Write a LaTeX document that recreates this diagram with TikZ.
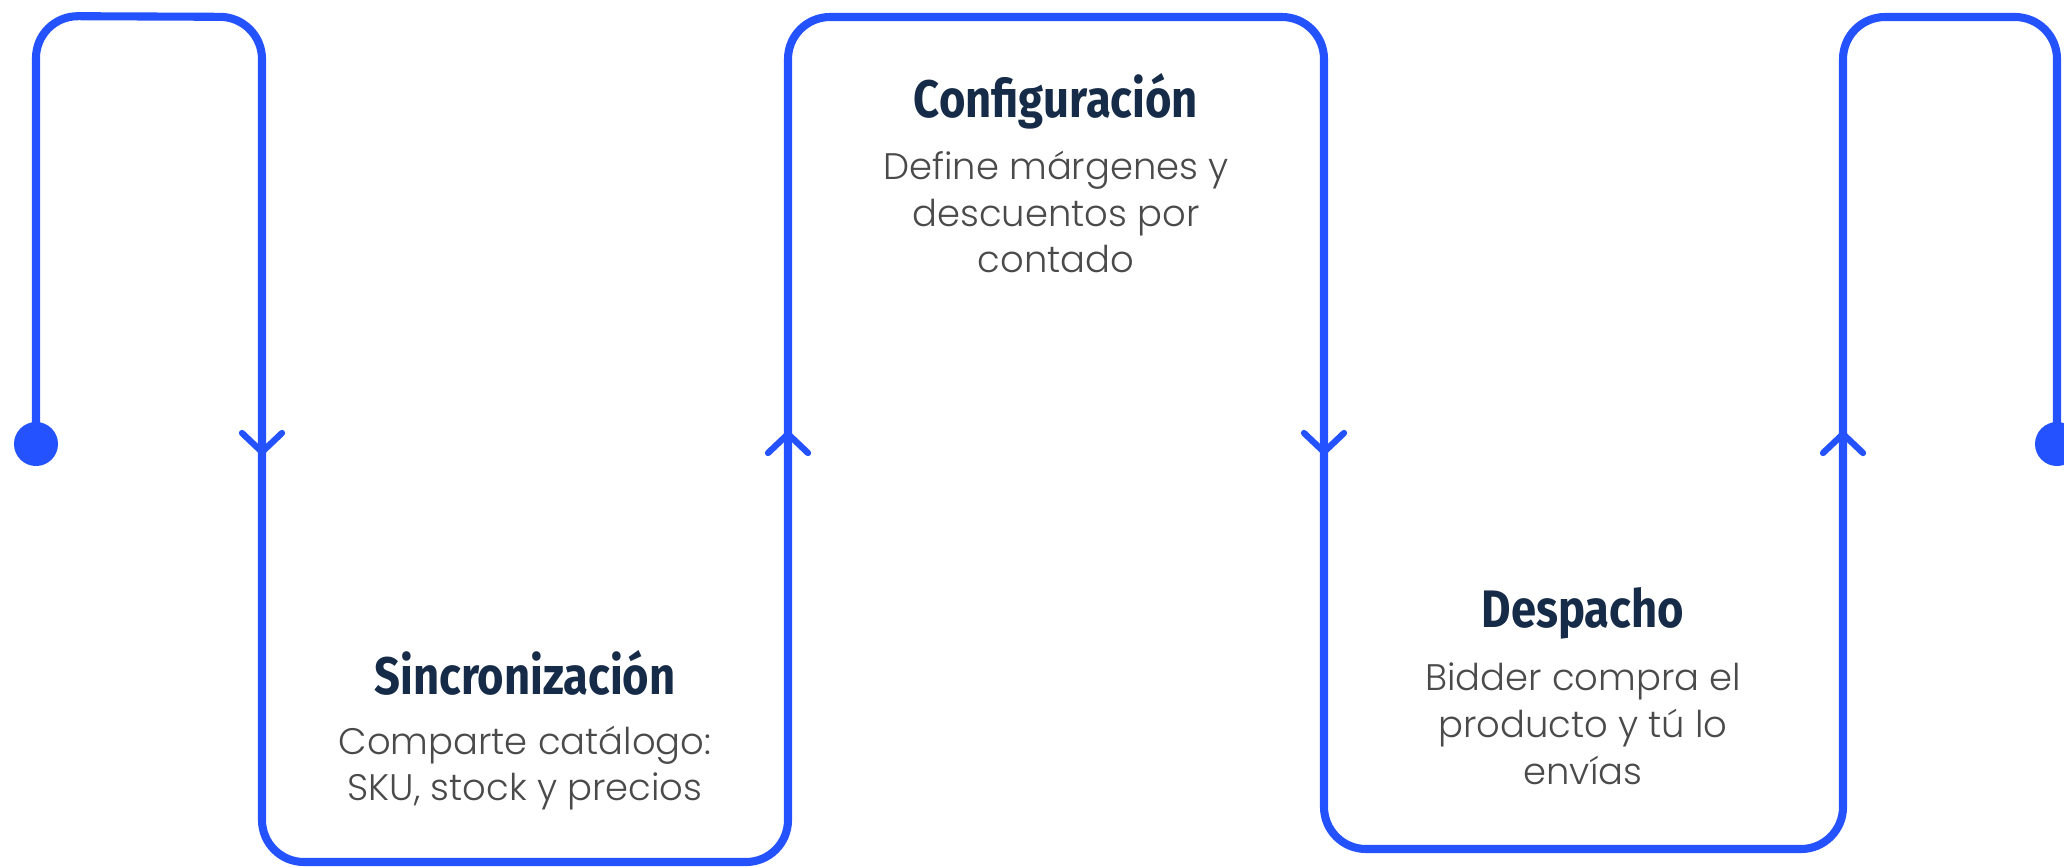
\documentclass[tikz,border=0pt]{standalone}
\usepackage{fontspec}
\usetikzlibrary{positioning}
\newfontfamily\headfont{Fira Sans}[FakeStretch=0.86]
\newfontfamily\bodyfont{Poppins}[UprightFont=* Light]
\newcommand\evenlines{\lineskiplimit=-20pt\relax}
\definecolor{trackblue}{HTML}{2452FF}
\definecolor{headnavy}{HTML}{152B47}
\definecolor{bodygrey}{HTML}{4A4A4A}

\begin{document}
\begin{tikzpicture}[x=0.01cm,y=-0.01cm,
  track/.style={draw=trackblue, line width=2.3pt, rounded corners=0.42cm},
  chevron/.style={draw=trackblue, line width=1.8pt, line cap=round, line join=round},
  head/.style={text=headnavy, font=\headfont\bfseries\fontsize{15}{18}\selectfont},
  blurb/.style={text=bodygrey, align=center,
    font=\bodyfont\fontsize{10.5}{13.3}\selectfont\evenlines}]
  \useasboundingbox (0,0) rectangle (2064,866);
  % corners of the track
  \coordinate (start) at (36,444);
  \coordinate (c1) at (36,16);
  \coordinate (c2) at (262,17);
  \coordinate (c3) at (262,862);
  \coordinate (c4) at (788,862);
  \coordinate (c5) at (788,17);
  \coordinate (c6) at (1324,17);
  \coordinate (c7) at (1324,849);
  \coordinate (c8) at (1843,849);
  \coordinate (c9) at (1843,17);
  \coordinate (c10) at (2057,17);
  \coordinate (finish) at (2057,444);
  \draw[track] (start) -- (c1) -- (c2) -- (c3) -- (c4) -- (c5) -- (c6)
    -- (c7) -- (c8) -- (c9) -- (c10) -- (finish);
  \fill[trackblue] (start) circle (0.22cm);
  \fill[trackblue] (finish) circle (0.22cm);
  % arrow heads on the track
  \coordinate (down1) at (262,452);
  \coordinate (up1) at (788,434);
  \coordinate (down2) at (1324,452);
  \coordinate (up2) at (1843,434);
  \draw[chevron] (down1) ++(-20,-19) -- (down1) -- ++(20,-19);
  \draw[chevron] (down2) ++(-20,-19) -- (down2) -- ++(20,-19);
  \draw[chevron] (up1) ++(-20,19) -- (up1) -- ++(20,19);
  \draw[chevron] (up2) ++(-20,19) -- (up2) -- ++(20,19);
  % steps
  \node[head] (sinc) at (525,673) {Sincronización};
  \node[blurb] (sinctxt) at (525,768) {Comparte catálogo:\\SKU, stock y precios};
  \node[head] (config) at (1056,101) {Configuración};
  \node[blurb] (configtxt) at (1056,212) {Define márgenes y\\descuentos por\\contado};
  \node[head] (desp) at (1583,613) {Despacho};
  \node[blurb] (desptxt) at (1583,724) {Bidder compra el\\producto y tú lo\\envías};
\end{tikzpicture}
\end{document}
